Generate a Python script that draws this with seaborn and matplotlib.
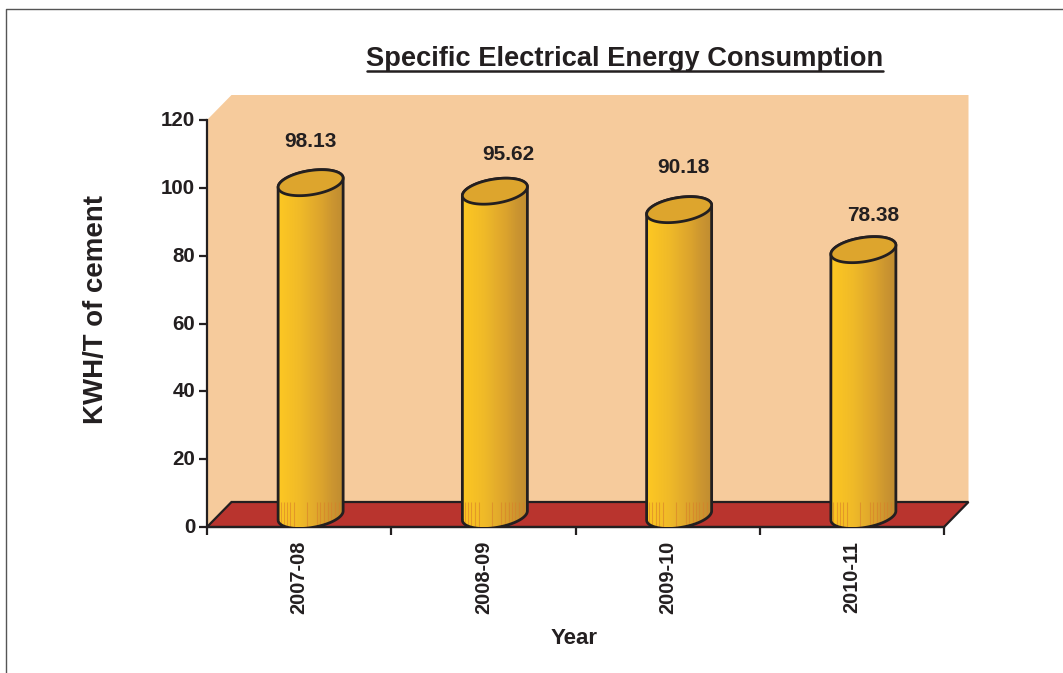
import numpy as np
import matplotlib
matplotlib.use('Agg')
import matplotlib.pyplot as plt
import seaborn as sns
from matplotlib.colors import LinearSegmentedColormap
from matplotlib.lines import Line2D
from matplotlib.patches import PathPatch, Polygon
from matplotlib.path import Path
from matplotlib.transforms import ScaledTranslation

years = ['2007-08', '2008-09', '2009-10', '2010-11']
consumption = [98.13, 95.62, 90.18, 78.38]
y_ticks = [0, 20, 40, 60, 80, 100, 120]
# where each value label sits relative to the top of its cylinder (points)
label_dx = [0, 10, 3, 7]
label_dy = [19, 16, 20, 14]

DARK = '#231f20'
WIDTH, HEIGHT = 1063, 673
LEFT, RIGHT, TOP, BOTTOM = 207, 944, 120, 527

sns.set_theme(style='ticks')
plt.rcParams['font.family'] = ['Liberation Sans', 'DejaVu Sans']
plt.rcParams['font.weight'] = 'bold'

fig = plt.figure(figsize=(WIDTH / 100, HEIGHT / 100), dpi=100)
ax = fig.add_axes([LEFT / WIDTH, 1 - BOTTOM / HEIGHT,
                   (RIGHT - LEFT) / WIDTH, (BOTTOM - TOP) / HEIGHT])

sns.barplot(x=years, y=consumption, width=0.35, ax=ax, color='#f0b92b')
ax.set_xlim(-0.5, 3.5)
ax.set_ylim(0, 120)

# scale of the data units in pixels, the 3D shapes are sized in pixels
px_x = 4 / (RIGHT - LEFT)
px_y = 120 / (BOTTOM - TOP)
depth_x, depth_y = 24.5 * px_x, 25 * px_y

# back wall and floor
wall = [(-0.5, 0), (-0.5, 120), (-0.5 + depth_x, 120 + depth_y),
        (3.5 + depth_x, 120 + depth_y), (3.5 + depth_x, depth_y), (-0.5 + depth_x, depth_y)]
ax.add_patch(Polygon(wall, closed=True, fc='#f6cb9c', ec='none', zorder=0.5, clip_on=False))
floor = [(-0.5, 0), (-0.5 + depth_x, depth_y), (3.5 + depth_x, depth_y), (3.5, 0)]
ax.add_patch(Polygon(floor, closed=True, fc='#b9342e', ec=DARK, lw=1.6, zorder=0.6, clip_on=False))

cyl_cmap = LinearSegmentedColormap.from_list(
    'cyl', ['#fdc823', '#f7c125', '#f0ba28', '#e6af2b', '#dca42d', '#cc9630', '#c08c31'])
gradient = np.linspace(0, 1, 256).reshape(1, -1)

half_w = 32.5 * px_x
skew = 4.5 * px_y
minor_h = 12.2 * px_y
shift_x = 11.5 * px_x
shift_y = 11.5 * px_y
streaks = np.array([-0.92, -0.82, -0.72, -0.62, -0.5, -0.1, 0.2, 0.3, 0.42, 0.52, 0.62, 0.74, 0.86])


def ellipse_pts(cx, cy, t):
    return np.column_stack([cx + half_w * np.cos(t),
                            cy + skew * np.cos(t) + minor_h * np.sin(t)])


for i, bar in enumerate(ax.containers[0]):
    bar.set_visible(False)
    cx = bar.get_x() + bar.get_width() / 2 + shift_x
    h = bar.get_height()
    base = ellipse_pts(cx, shift_y, np.linspace(np.pi, 2 * np.pi, 60))
    top_back = ellipse_pts(cx, shift_y + h, np.linspace(0, np.pi, 60))
    body = np.vstack([base, top_back, base[:1]])
    ax.add_patch(PathPatch(Path(body), fc='none', ec=DARK, lw=2, zorder=3.2))
    im = ax.imshow(gradient, cmap=cyl_cmap, aspect='auto', zorder=3,
                   extent=(cx - half_w, cx + half_w, 0, 120))
    im.set_clip_path(PathPatch(Path(body), transform=ax.transData))
    # darker vertical streaks low down on the cylinder
    lines = ax.vlines(cx + streaks * half_w, 0, depth_y, color='#d87f2a', lw=0.8, alpha=0.6, zorder=3.1)
    lines.set_clip_path(PathPatch(Path(body), transform=ax.transData))
    lid = ellipse_pts(cx, shift_y + h, np.linspace(0, 2 * np.pi, 120))
    ax.add_patch(Polygon(lid, closed=True, fc='#dda52d', ec=DARK, lw=2, zorder=3.3))
    ax.annotate(f'{consumption[i]:.2f}', xy=(cx, h + shift_y + minor_h + skew / 2),
                xytext=(label_dx[i], label_dy[i]), textcoords='offset points',
                ha='center', va='center', fontsize=15, fontweight='bold', color=DARK)

ax.set_xlim(-0.5, 3.5)
ax.set_ylim(0, 120)

# ticks sit between the categories, labels in the middle
ax.set_xticks(np.arange(-0.5, 4, 1))
ax.set_xticklabels([])
ax.set_xticks(range(len(years)), labels=years, minor=True)
ax.tick_params(axis='x', which='major', length=6, width=1.6, color=DARK)
ax.tick_params(axis='x', which='minor', length=0, pad=10, labelrotation=90,
               labelsize=14.4, labelcolor=DARK)
ax.set_yticks(y_ticks)
ax.tick_params(axis='y', length=6, width=1.6, color=DARK, labelsize=14.8, labelcolor=DARK, pad=2.5)
for lab in ax.get_xticklabels(minor=True) + ax.get_yticklabels():
    lab.set_fontweight('bold')
# y labels sit a touch above their ticks
up = ScaledTranslation(0, 1.5 / 100, fig.dpi_scale_trans)
for lab in ax.get_yticklabels():
    lab.set_transform(lab.get_transform() + up)

sns.despine(ax=ax)
for side in ['left', 'bottom']:
    ax.spines[side].set_linewidth(1.6)
    ax.spines[side].set_color(DARK)
ax.spines['left'].set_zorder(2.5)
ax.set_xlabel('')
ax.set_ylabel('')

fig.text(96 / WIDTH, 1 - 310 / HEIGHT, 'KWH/T of cement', rotation=90, ha='center', va='center',
         fontsize=19.9, fontweight='bold', color=DARK)
fig.text(574 / WIDTH, 1 - 638 / HEIGHT, 'Year', ha='center', va='center',
         fontsize=16, fontweight='bold', color=DARK)
fig.text(625 / WIDTH, 1 - 58.5 / HEIGHT, 'Specific Electrical Energy Consumption', ha='center', va='center',
         fontsize=19.6, fontweight='bold', color=DARK)

# title underline and the page frame
fig.add_artist(Line2D([367 / WIDTH, 883 / WIDTH], [1 - 70.5 / HEIGHT] * 2, color=DARK, lw=1.8))
fig.add_artist(Line2D([6 / WIDTH, 6 / WIDTH, 1], [0, 1 - 9 / HEIGHT, 1 - 9 / HEIGHT], color='#555555', lw=1))

fig.savefig('out.png', dpi=100)
